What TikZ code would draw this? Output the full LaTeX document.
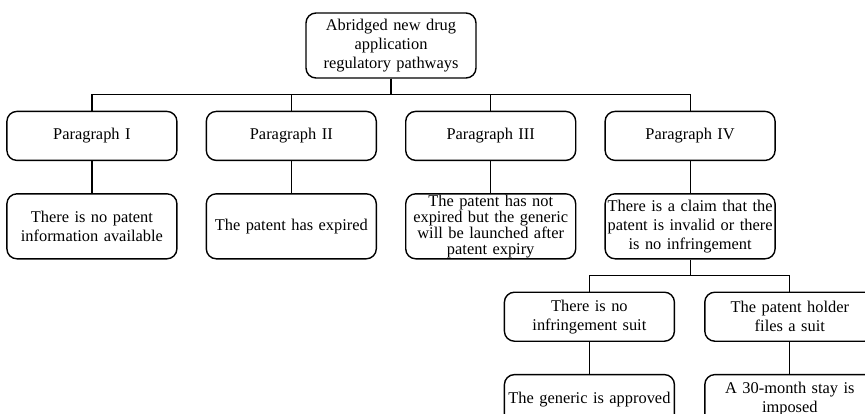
\documentclass[tikz,border=0pt]{standalone}
\usepackage{fontspec}
\setmainfont{Liberation Serif}
\usetikzlibrary{positioning}
\begin{document}
\begin{tikzpicture}[font=\fontsize{8.2}{9.4}\selectfont,
 recuadro/.style={draw=black,line width=0.7pt,rounded corners=5pt,text width=85pt,align=center,minimum width=85pt,minimum height=24.5pt,inner xsep=0pt,inner ysep=1pt},
 alto/.style={minimum height=32.5pt},
 linea/.style={draw=black,line width=0.6pt}]
\useasboundingbox (0,0) rectangle (432.5pt,-206.5pt);
\node[recuadro,alto] (raiz) at (195.5pt,-22.75pt) {Abridged new drug\\application\\regulatory pathways};
\node[recuadro,below left=16pt and 7pt of raiz.south] (par2) {Paragraph II};
\node[recuadro,left=14pt of par2] (par1) {Paragraph I};
\node[recuadro,below right=16pt and 7pt of raiz.south] (par3) {Paragraph III};
\node[recuadro,right=14pt of par3] (par4) {Paragraph IV};
\node[recuadro,alto,below=16pt of par1] (sinpat) {There is no patent\\information available};
\node[recuadro,alto,below=16pt of par2] (expir) {The patent has expired};
\node[recuadro,alto,below=16pt of par3,font=\fontsize{8.2}{8}\selectfont,inner ysep=0pt] (noexp) {The patent has not\\expired but the generic\\will be launched after\\patent expiry};
\node[recuadro,alto,below=16pt of par4] (reclamo) {There is a claim that the\\patent is invalid or there\\is no infringement};
\node[recuadro,below left=16pt and 7.5pt of reclamo.south] (nodemanda) {There is no\\infringement suit};
\node[recuadro,right=14.5pt of nodemanda] (demanda) {The patent holder\\files a suit};
\node[recuadro,below=16pt of nodemanda] (aprobado) {The generic is approved};
\node[recuadro,below=16pt of demanda] (espera) {A 30-month stay is\\imposed};
\foreach \p in {par1,par2,par3,par4}
  \draw[linea] (raiz.south)--++(0,-8pt) -| (\p.north);
\draw[linea] (par1)--(sinpat);
\draw[linea] (par2)--(expir);
\draw[linea] (par3)--(noexp);
\draw[linea] (par4)--(reclamo);
\draw[linea] (reclamo.south)--++(0,-8pt) -| (nodemanda.north);
\draw[linea] (reclamo.south)--++(0,-8pt) -| (demanda.north);
\draw[linea] (nodemanda)--(aprobado);
\draw[linea] (demanda)--(espera);
\end{tikzpicture}
\end{document}
